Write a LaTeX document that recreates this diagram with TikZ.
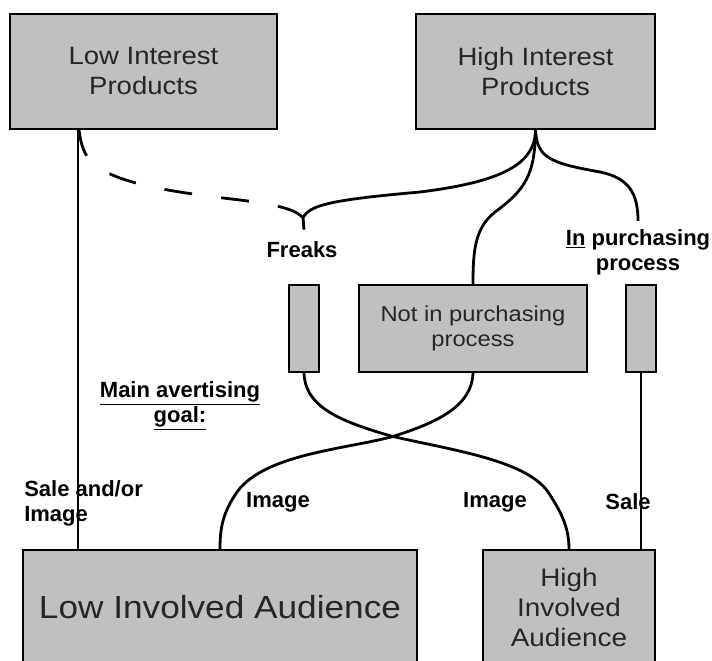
\documentclass[tikz,border=0pt]{standalone}
\usepackage{fontspec}
\setmainfont{Liberation Sans}
\newfontfamily\boxfont[FakeStretch=1.1]{Liberation Sans}
\usetikzlibrary{calc}
\definecolor{boxgray}{HTML}{C0C0C0}
\begin{document}
\begin{tikzpicture}[x=0.75pt,y=-0.75pt,
  box/.style={draw=black,line width=1.5pt,fill=boxgray,inner sep=0pt,align=center,text=black!85},
  conn/.style={line width=2.1pt},
  dashconn/.style={line width=2.1pt,dash pattern=on 21pt off 22pt},
  lab/.style={inner sep=0pt,font=\fontsize{16.5}{18.75}\selectfont\bfseries,align=center}]
\useasboundingbox (0,0) rectangle (712,660);
\clip (0,0) rectangle (712,660);

% boxes
\node[box,minimum width=200.25pt,minimum height=86.25pt,font=\boxfont\fontsize{18.75}{22.5}\selectfont] (lip) at (143.5,71.5) {Low Interest\\Products};
\node[box,minimum width=179.25pt,minimum height=86.25pt,font=\boxfont\fontsize{18.75}{22.5}\selectfont] (hip) at (535.5,71.5) {High Interest\\Products};
\node[box,minimum width=22.5pt,minimum height=65.25pt] (fbox) at (304,328.5) {};
\node[box,minimum width=171pt,minimum height=65.25pt,font=\boxfont\fontsize{16.2}{18.75}\selectfont] (notbox) at (473,328.5) {Not in purchasing\\process};
\node[box,minimum width=22.5pt,minimum height=65.25pt] (inbox) at (641,328.5) {};
\node[box,minimum width=295.5pt,minimum height=85.5pt,font=\boxfont\fontsize{24}{28}\selectfont] (lia) at (220,607) {Low Involved Audience};
\node[box,minimum width=129pt,minimum height=85.5pt,font=\boxfont\fontsize{19}{22.5}\selectfont] (hia) at (569,607) {High\\Involved\\Audience};

% labels
\node[lab] (freaks) at (302,250) {Freaks};
\node[lab] (inlab) at (638,252) {\underline{In} purchasing\\process};
\node[lab] (goal) at (180,406) {\underline{Main avertising}\\\underline{goal:}};
\node[lab,align=left,anchor=west] (saleor) at (24,503) {Sale and/or\\Image};
\node[lab] (img1) at (278,502) {Image};
\node[lab] (img2) at (495,502) {Image};
\node[lab] (sale) at (628,502) {Sale};

% connectors
\draw[conn] ($(lip.south west)+(69,0)$) -- ($(lia.north west)+(56,0)$);
\coordinate (cusp) at ($(freaks.north)+(1,-24)$);
\draw[conn] ($(freaks.north)+(2,-12)$) -- (cusp);
\draw[dashconn] (cusp) .. controls (296,210) and (280,205) .. (240,200)
   .. controls (180,193) and (120,185) .. (95,165)
   .. controls (84,156) and (81,145) .. ($(lip.south west)+(70,0)$);
\draw[conn] (cusp) .. controls (310,205) and (330,200) .. (420,192)
   .. controls (500,182) and (535,165) .. (hip.south);
\draw[conn] (hip.south) .. controls (535,175) and (525,190) .. (495,212)
   .. controls (475,228) and (473,250) .. (notbox.north);
\draw[conn] (hip.south) .. controls (537,158) and (550,163) .. (600,172)
   .. controls (630,178) and (638,195) .. ($(inlab.north)+(0,-8)$);
\draw[conn] (fbox.south) .. controls (305,405) and (335,420) .. (391,436)
   .. controls (450,450) and (530,460) .. (550,495)
   .. controls (563,515) and (569,530) .. (hia.north);
\draw[conn] (notbox.south) .. controls (472,405) and (440,422) .. (391,437)
   .. controls (340,450) and (260,455) .. (235,495)
   .. controls (222,515) and (220,530) .. (lia.north);
\draw[conn] (inbox.south) -- (inbox.south |- hia.north);
\end{tikzpicture}
\end{document}
